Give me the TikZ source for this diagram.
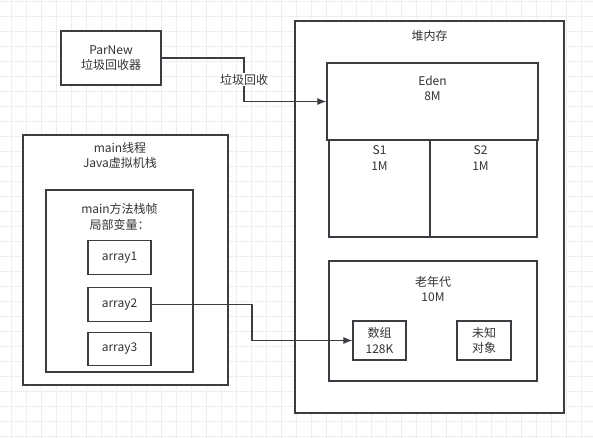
\documentclass[tikz,border=0pt]{standalone}
\usepackage{fontspec}
\setmainfont{Noto Sans CJK SC}
\definecolor{linegray}{RGB}{58,61,66}
\definecolor{textgray}{RGB}{51,51,51}
\definecolor{gridgray}{RGB}{238,238,238}
\usepackage{tikz}
\usetikzlibrary{arrows.meta,positioning,calc}

\begin{document}
\begin{tikzpicture}[x=1pt, y=-1pt,
    box/.style={draw=linegray, line width=1.2pt, fill=white, inner sep=0pt},
    lbl/.style={align=center, text=textgray, font=\fontsize{12}{15.5}\selectfont, inner sep=0pt},
    link/.style={draw=linegray, line width=1.1pt},
    >={Latex[length=9pt,width=7pt]}]
    \useasboundingbox (0,0) rectangle (593,438);
    \fill[white] (0,0) rectangle (593,438);
    % background grid
    \foreach \gx in {11.7,26.7,...,593} {
        \draw[gridgray, line width=0.8pt] (\gx,0) -- (\gx,438);
    }
    \foreach \gy in {1.7,16.7,...,438} {
        \draw[gridgray, line width=0.8pt] (0,\gy) -- (593,\gy);
    }

    % collector
    \node[box, minimum width=100pt, minimum height=54pt] (parnew) at (111,58) {};
    \node[lbl] at (parnew.center) {ParNew\\垃圾回收器};

    % heap
    \node[box, minimum width=269pt, minimum height=392pt] (heap) at (429.5,217) {};
    \node[lbl] at ([yshift=-16pt]heap.north) {堆内存};
    \node[box, minimum width=211pt, minimum height=77pt] (eden) at (432.5,101.5) {};
    \node[lbl] at ([yshift=-25.7pt]eden.north) {Eden\\8M};
    \node[box, minimum width=101pt, minimum height=97pt] (s1) at (379.5,188.5) {};
    \node[lbl] at ([yshift=-18.5pt]s1.north) {S1\\1M};
    \node[box, minimum width=107pt, minimum height=97pt] (s2) at (483.5,188.5) {};
    \node[lbl] at ([xshift=-3pt, yshift=-18.5pt]s2.north) {S2\\1M};
    \node[box, minimum width=208pt, minimum height=120pt] (old) at (433,321) {};
    \node[lbl] at ([yshift=-28.5pt]old.north) {老年代\\10M};
    \node[box, minimum width=53pt, minimum height=39pt] (arr) at (379.5,340.5) {};
    \node[lbl] at (arr.center) {数组\\128K};
    \node[box, minimum width=54pt, minimum height=39pt] (unknown) at (484,340.5) {};
    \node[lbl] at (unknown.center) {未知\\对象};

    % main thread stack
    \node[box, minimum width=205pt, minimum height=250pt] (thread) at (125.5,260) {};
    \node[lbl] at ([xshift=-5.5pt, yshift=-20.8pt]thread.north) {main线程\\Java虚拟机栈};
    \node[box, minimum width=147pt, minimum height=182pt] (frame) at (119.5,281) {};
    \node[lbl] at ([yshift=-27.5pt]frame.north) {main方法栈帧\\局部变量：};
    \foreach \i/\yy in {1/257.5, 2/304.5, 3/349} {
        \node[box, minimum width=63pt, minimum height=33.5pt] (array\i) at (119.5,\yy) {};
        \node[lbl] at (array\i.center) {array\i};
    }

    % connectors
    \draw[link, ->] (parnew.east) -| ($(parnew.east)!.5!(eden.west)$) |- (eden.west);
    \node[lbl, fill=white, inner sep=1pt] (gclabel) at ($(parnew.east)!.5!(eden.west)$) {垃圾回收};
    \draw[link, ->] (array2.east) -| ($(array2.east)!.5!(arr.west)$) |- (arr.west);
\end{tikzpicture}
\end{document}
